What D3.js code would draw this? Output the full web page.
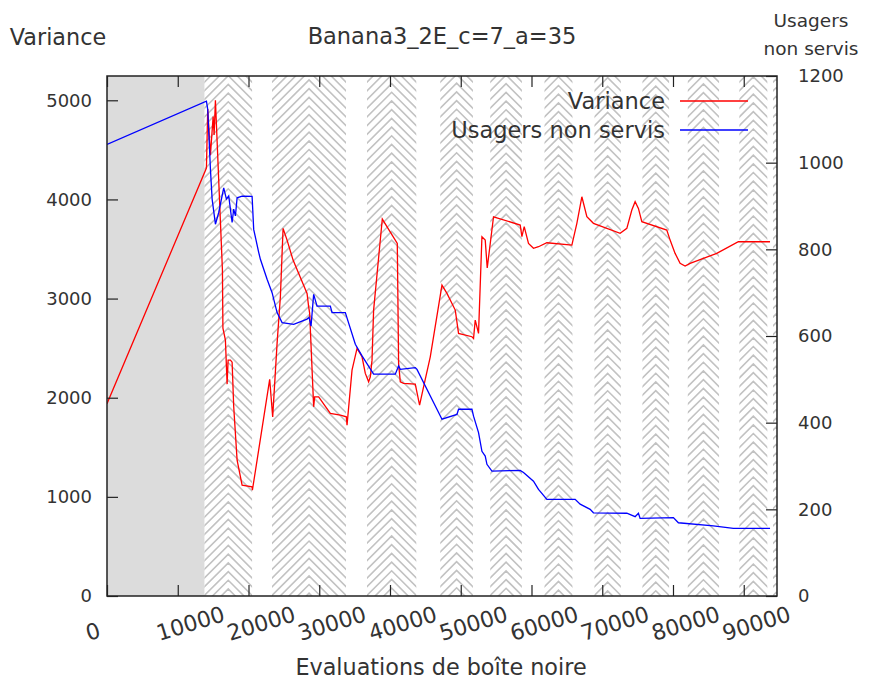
<!DOCTYPE html>
<html>
<head>
<meta charset="utf-8">
<script src="https://cdn.jsdelivr.net/npm/d3@7"></script>
<style>
  html, body { margin: 0; padding: 0; background: #fff; }
  svg text { font-family: "DejaVu Sans", sans-serif; fill: #333; }
</style>
</head>
<body>
<svg id="chart" width="884" height="685"></svg>
<script>
// Evaluation counts (x) and measured values for each series
const varX = [0,14054,14237,14619,15000,15141,15325,16314,16384,16737,16977,17119,17444,17684,17910,18390,19096,20508,20551,21215,22994,23418,24040,24506,24887,25452,26299,28277,28503,28644,29209,29350,29915,31568,32980,33828,33927,34633,35339,36045,36511,36977,37218,37458,37684,38912,41031,41215,41455,41921,43573,44181,44746,45692,47345,48051,49223,49689,51582,51808,52048,52514,52994,53460,53743,54633,58404,58644,58969,59576,60282,60989,62175,65706,66412,67119,67825,68757,72528,73475,74181,74647,75113,75593,79124,79590,80297,81003,81709,82415,86186,89237,93715];
const varY = [1940,4317,4912,4447,4835,4650,5000,3288,2702,2581,2137,2380,2380,2359,1908,1370,1118,1101,1068,1370,2185,1807,2548,3018,3708,3590,3388,3052,2917,2854,1908,2009,2009,1842,1824,1807,1724,2278,2497,2413,2245,2160,2211,2379,2884,3802,3557,2346,2160,2144,2137,1925,2110,2413,3136,3052,2884,2649,2615,2598,2783,2649,3624,3590,3308,3825,3742,3624,3725,3557,3507,3523,3563,3540,3759,4027,3825,3759,3658,3708,3893,3977,3910,3775,3691,3590,3456,3355,3328,3355,3456,3573,3573];

const usX = [0,14054,14237,14619,14859,15325,15791,16497,16878,17203,17684,17910,18150,18390,19096,20508,20734,21441,21681,22627,23333,24040,24746,26384,28277,28560,28842,29209,29689,31568,31808,33686,35099,36045,37684,40749,41215,41455,43573,43814,47345,49463,49689,51582,51808,52514,52994,53460,53701,54407,58404,58870,60282,60989,62175,66172,66879,68291,68757,73475,74647,75113,75353,80056,80763,85706,88531,93715];
const usY = [1042,1142,1123,985,916,858,885,942,916,923,862,893,877,919,923,922,846,793,777,731,700,654,631,627,639,643,623,696,669,669,654,654,581,554,512,512,531,523,527,523,408,419,431,431,415,377,334,323,304,288,290,285,265,246,223,223,212,200,192,191,183,191,179,181,169,162,156,156];

// Initial phase, then alternating hatched phases
const warmupEnd = 13771;
const phaseStart = [13771,23333,36751,47105,54167,61836,68898,75678,82090,89379,94150];
const phaseEnd   = [20508,33785,43715,51723,58644,65791,72627,79449,86511,93333,95000];

// Axis ticks and labels
const xTicks  = [0,10000,20000,30000,40000,50000,60000,70000,80000,90000];
const yTicks  = [0,1000,2000,3000,4000,5000];
const y2Ticks = [0,200,400,600,800,1000,1200];
const xDomain = [0, 94700];
const yDomain = [0, 5245];
const y2Domain = [0, 1200];

const title = "Banana3_2E_c=7_a=35";
const xLabel = "Evaluations de boîte noire";
const yLabel = "Variance";
const y2Label = ["Usagers", "non servis"];
const seriesNames = ["Variance", "Usagers non servis"];
const seriesColors = ["#ff0000", "#0000ff"];

const L = 107, R = 777, T = 76, B = 596;
const svg = d3.select("#chart");

const x = d3.scaleLinear().domain(xDomain).range([L, R]);
const y = d3.scaleLinear().domain(yDomain).range([B, T]);
const y2 = d3.scaleLinear().domain(y2Domain).range([B, T]);

const defs = svg.append("defs");
defs.append("clipPath").attr("id", "plotClip")
  .append("rect").attr("x", L).attr("y", T).attr("width", R - L).attr("height", B - T);

// Initial phase background
svg.append("rect")
  .attr("x", x(0)).attr("y", T)
  .attr("width", x(warmupEnd) - x(0)).attr("height", B - T)
  .attr("fill", "#dcdcdc");

// Hatched phases: chevrons pointing up, apex on the phase centre
const bands = svg.append("g").attr("clip-path", "url(#plotClip)");
phaseStart.forEach((s, i) => {
  const x0 = x(s), x1 = Math.min(x(phaseEnd[i]), R);
  if (x1 <= x0) return;
  const id = "band" + i;
  defs.append("clipPath").attr("id", id)
    .append("rect").attr("x", x0).attr("y", T).attr("width", x1 - x0).attr("height", B - T);
  const cx = (x(s) + x(phaseEnd[i])) / 2;
  const hw = Math.max(cx - x0, x1 - cx);
  let d = "";
  for (let yk = T - hw - 20; yk < B + 20; yk += 8.7) {
    d += `M${x0 - 2},${yk + (cx - x0) + 2}L${cx},${yk}L${x1 + 2},${yk + (x1 - cx) + 2}`;
  }
  bands.append("g").attr("clip-path", `url(#${id})`)
    .append("path").attr("d", d)
    .attr("fill", "none").attr("stroke", "#c2c2c2").attr("stroke-width", 1.6);
});

// Series lines
const lineVar = d3.line().x((d, i) => x(varX[i])).y(d => y(d));
const lineUs = d3.line().x((d, i) => x(usX[i])).y(d => y2(d));
const lines = svg.append("g").attr("clip-path", "url(#plotClip)");
lines.append("path").attr("d", lineVar(varY))
  .attr("fill", "none").attr("stroke", seriesColors[0]).attr("stroke-width", 1.3);
lines.append("path").attr("d", lineUs(usY))
  .attr("fill", "none").attr("stroke", seriesColors[1]).attr("stroke-width", 1.3);

// Axes, ticks pointing inward
function styleAxis(g) {
  g.select(".domain").remove();
  g.selectAll(".tick line").attr("stroke", "#222").attr("stroke-width", 1.2);
}
svg.append("g").attr("transform", `translate(0,${B})`)
  .call(d3.axisBottom(x).tickValues(xTicks).tickSize(-11).tickFormat(d3.format("d")))
  .call(styleAxis)
  .call(g => g.selectAll("text")
    .attr("x", 0).attr("y", 0).attr("dy", null)
    .attr("text-anchor", "start")
    .attr("transform", "translate(-19,45) rotate(-17)")
    .style("font-size", "22px"));
svg.append("g").attr("transform", `translate(0,${T})`)
  .call(d3.axisTop(x).tickValues(xTicks).tickSize(-11).tickFormat(""))
  .call(styleAxis);
svg.append("g").attr("transform", `translate(${L},0)`)
  .call(d3.axisLeft(y).tickValues(yTicks).tickSize(-11).tickPadding(15).tickFormat(d3.format("d")))
  .call(styleAxis)
  .call(g => g.selectAll("text").style("font-size", "18px"));
svg.append("g").attr("transform", `translate(${R},0)`)
  .call(d3.axisRight(y2).tickValues(y2Ticks).tickSize(-11).tickPadding(21).tickFormat(d3.format("d")))
  .call(styleAxis)
  .call(g => g.selectAll("text").style("font-size", "18px"));

// Plot border
svg.append("rect").attr("x", L).attr("y", T).attr("width", R - L).attr("height", B - T)
  .attr("fill", "none").attr("stroke", "#222").attr("stroke-width", 1.5);

// Titles
svg.append("text").attr("x", 442).attr("y", 44).attr("text-anchor", "middle")
  .style("font-size", "22.5px").text(title);
svg.append("text").attr("x", 58).attr("y", 45).attr("text-anchor", "middle")
  .style("font-size", "22.3px").text(yLabel);
svg.append("text").attr("x", 811).attr("y", 27).attr("text-anchor", "middle")
  .style("font-size", "18.5px").text(y2Label[0]);
svg.append("text").attr("x", 811).attr("y", 55).attr("text-anchor", "middle")
  .style("font-size", "18.5px").text(y2Label[1]);
svg.append("text").attr("x", 441).attr("y", 675).attr("text-anchor", "middle")
  .style("font-size", "22.3px").text(xLabel);

// Legend
const legend = svg.append("g");
seriesNames.forEach((name, i) => {
  const ly = 101 + i * 29;
  legend.append("text").attr("x", 665).attr("y", ly + 8).attr("text-anchor", "end")
    .style("font-size", "22.5px").text(name);
  legend.append("line").attr("x1", 680).attr("x2", 748).attr("y1", ly).attr("y2", ly)
    .attr("stroke", seriesColors[i]).attr("stroke-width", 1.3);
});
</script>
</body>
</html>
